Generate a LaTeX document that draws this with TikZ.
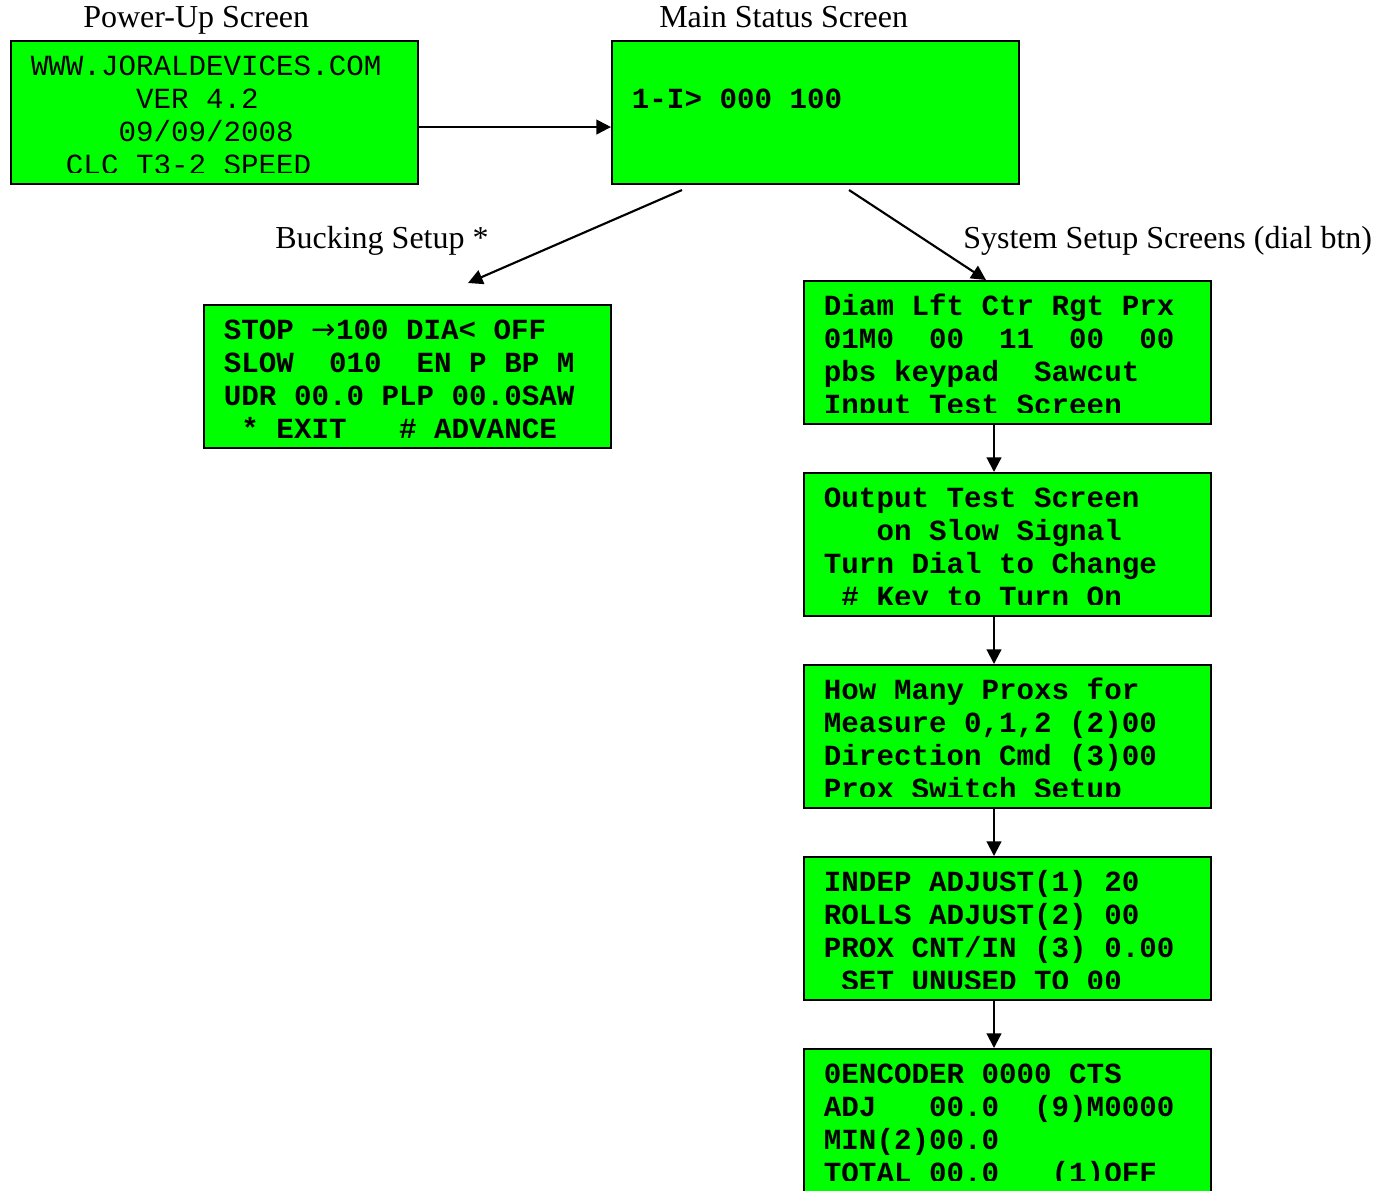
\documentclass[tikz,border=0pt]{standalone}
\usepackage{fontspec}
\setmainfont{Liberation Serif}
\setmonofont{Liberation Mono}
\newfontfamily\arrowfont{DejaVu Sans}
\usetikzlibrary{arrows.meta}
\definecolor{lcdgreen}{HTML}{00FF00}
\frenchspacing
\newcommand\lcdlines[4]{%
  \begin{scope}
    \clip (#1.north west) rectangle ([yshift=#3]#1.south east);
    \foreach \lcdrow [count=\i from 0] in {#4} {
      \node[#2] (#1-\i) at ([xshift=15.5pt,yshift=-26.25pt-24.75pt*\i]#1.north west) {\lcdrow};
    }
  \end{scope}}
\begin{document}
\begin{tikzpicture}[x=0.75pt,y=-0.75pt,
  screen/.style={draw=black, line width=1.5pt, fill=lcdgreen, minimum width=305.25pt,
    minimum height=107.25pt, anchor=north west, inner sep=0pt},
  lcdbold/.style={anchor=base west, inner sep=0pt,
    font=\ttfamily\bfseries\fontsize{21.9}{24.75}\selectfont},
  lcdthin/.style={anchor=base west, inner sep=0pt,
    font=\ttfamily\fontsize{21.9}{24.75}\selectfont},
  link/.style={line width=1.6pt, -{Triangle[length=11pt,width=11pt]}},
  caption/.style={anchor=base west, inner sep=0pt, font=\fontsize{24}{28}\selectfont}]
\useasboundingbox (0,0) rectangle (1388,1190);
\fill[white] (0,0) rectangle (1388,1190);

% captions
\node[caption] (capPower) at (83,27) {Power-Up Screen};
\node[caption] (capMain) at (659,27) {Main Status Screen};
\node[caption] (capBuck) at (275,248) {Bucking Setup *};
\node[caption] (capSys) at (963,248) {System Setup Screens (dial btn)};

% screens
\node[screen] (power) at (10,40) {};
\node[screen] (main) at (611,40) {};
\node[screen] (buck) at (203,304) {};
\node[screen] (diam) at (803,280) {};
\node[screen] (outp) at (803,472) {};
\node[screen] (prox) at (803,664) {};
\node[screen] (indep) at (803,856) {};
\node[screen] (enc) at (803,1048) {};

% screen texts
\lcdlines{power}{lcdthin}{9.5pt}{WWW.JORALDEVICES.COM, ~~~~~~VER 4.2, ~~~~~09/09/2008, ~~CLC T3-2 SPEED}
\node[lcdbold] (main-1) at ([xshift=15.5pt,yshift=-51pt]main.north west) {1-I> 000 100};
\lcdlines{buck}{lcdbold}{2pt}{{STOP {\arrowfont\mdseries →}100 DIA< OFF}, SLOW~~010~~EN P BP M, UDR 00.0 PLP 00.0SAW, ~* EXIT~~~\# ADVANCE}
\lcdlines{diam}{lcdbold}{9.5pt}{Diam Lft Ctr Rgt Prx, 01M0~~00~~11~~00~~00, pbs keypad~~Sawcut, Input Test Screen}
\lcdlines{outp}{lcdbold}{9.5pt}{Output Test Screen, ~~~on Slow Signal, Turn Dial to Change, ~\# Key to Turn On}
\lcdlines{prox}{lcdbold}{9.5pt}{How Many Proxs for, {Measure 0,1,2 (2)00}, Direction Cmd (3)00, Prox Switch Setup}
\lcdlines{indep}{lcdbold}{9.5pt}{INDEP ADJUST(1) 20, ROLLS ADJUST(2) 00, PROX CNT/IN (3) 0.00, ~SET UNUSED TO 00}
\lcdlines{enc}{lcdbold}{9.5pt}{0ENCODER 0000 CTS, ADJ~~~00.0~~(9)M0000, MIN(2)00.0, TOTAL 00.0~~~(1)OFF}

% connectors
\draw[link] ([yshift=-10.9pt]power.east) -- ([yshift=-10.9pt]main.west);
\draw[link] ([xshift=53.25pt,yshift=-3.75pt]main.south west) -- ([xshift=198.75pt,yshift=15.75pt]buck.north west);
\draw[link] ([xshift=178.5pt,yshift=-3.75pt]main.south west) -- ([xshift=137.25pt]diam.north west);
\draw[link] ([xshift=143.25pt]diam.south west) -- ([xshift=143.25pt]outp.north west);
\draw[link] ([xshift=143.25pt]outp.south west) -- ([xshift=143.25pt]prox.north west);
\draw[link] ([xshift=143.25pt]prox.south west) -- ([xshift=143.25pt]indep.north west);
\draw[link] ([xshift=143.25pt]indep.south west) -- ([xshift=143.25pt]enc.north west);
\end{tikzpicture}
\end{document}
